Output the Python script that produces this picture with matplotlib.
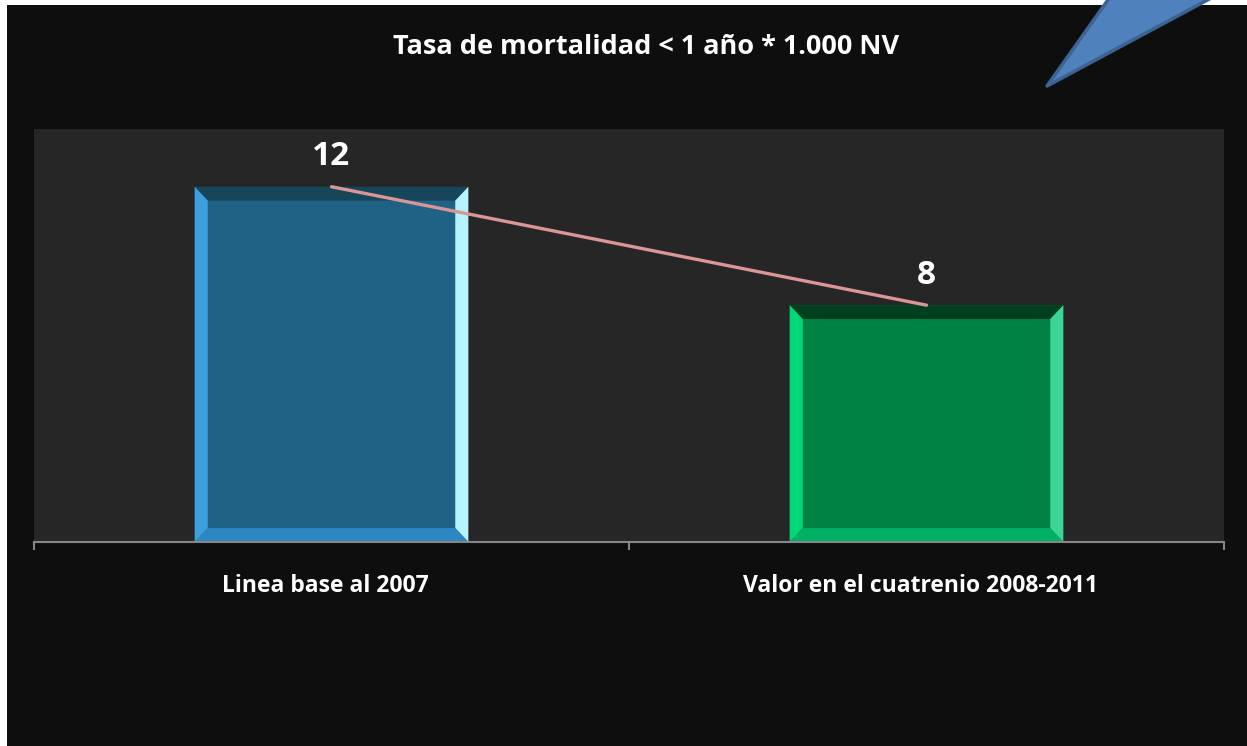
import matplotlib
matplotlib.use("Agg")
import matplotlib.pyplot as plt
from matplotlib.patches import Polygon, Rectangle

# data
categories = ["Linea base al 2007", "Valor en el cuatrenio 2008-2011"]
values = [12, 8]
title = "Tasa de mortalidad < 1 año * 1.000 NV"

# bar colours: face, top, left, right, bottom bevel
blue = ["#206286", "#17465a", "#3d9fdd", "#b4f3ff", "#2e86c2"]
green = ["#008244", "#003f1f", "#00d877", "#3ad597", "#00b064"]
bar_colors = [blue, green]

FONT = "Open Sans"

W, H = 1247, 746
fig = plt.figure(figsize=(W / 100, H / 100), dpi=100, facecolor="#0e0e0e")

# page margins + decoration
bg = fig.add_axes([0, 0, 1, 1], zorder=0)
bg.set_xlim(0, W)
bg.set_ylim(H, 0)
bg.axis("off")
bg.add_patch(Rectangle((-5, -5), 12, H + 10, color="white", lw=0))
bg.add_patch(Rectangle((-5, -5), W + 10, 10, color="white", lw=0))
bg.add_patch(Polygon([(1047, 86), (1110, -3), (1213, -3)], closed=True,
                     facecolor="#4f81bd", edgecolor="#3c6392", linewidth=2.5,
                     joinstyle="round"))

ax = fig.add_axes([34 / W, 1 - 542 / H, (1224 - 34) / W, (542 - 129) / H], zorder=1)
ax.set_facecolor("#262626")
ax.set_xlim(-0.5, 1.5)
ax.set_ylim(0, 13.95)

bw = 0.46
bx = 0.022   # bevel width in x units
by = 0.47    # bevel height in y units
for i, (v, c) in enumerate(zip(values, bar_colors)):
    x0, x1 = i - bw / 2, i + bw / 2
    ax.add_patch(Rectangle((x0, 0), bw, v, color=c[0], lw=0))
    ax.add_patch(Polygon([(x0, v), (x1, v), (x1 - bx, v - by), (x0 + bx, v - by)], color=c[1], lw=0))
    ax.add_patch(Polygon([(x0, 0), (x0, v), (x0 + bx, v - by), (x0 + bx, by)], color=c[2], lw=0))
    ax.add_patch(Polygon([(x1, 0), (x1, v), (x1 - bx, v - by), (x1 - bx, by)], color=c[3], lw=0))
    ax.add_patch(Polygon([(x0, 0), (x1, 0), (x1 - bx, by), (x0 + bx, by)], color=c[4], lw=0))
    ax.text(i, v + 0.45, str(v), ha="center", va="bottom", color="white",
            fontsize=24, fontweight="bold", family=FONT)

ax.plot(range(len(values)), values, color="#d99694", lw=2.4, solid_capstyle="round", zorder=5)

for s in ["top", "right", "left"]:
    ax.spines[s].set_visible(False)
ax.spines["bottom"].set_color("#868686")
ax.spines["bottom"].set_linewidth(1.5)
ax.set_yticks([])
ax.set_xticks([-0.5, 0.5, 1.5])
ax.set_xticklabels([])
ax.tick_params(axis="x", length=6, width=1.5, color="#868686")
for i, lab in enumerate(categories):
    ax.text(i - 0.01, -1.5, lab, ha="center", va="center", color="white",
            fontsize=16.5, fontweight="bold", family=FONT)

fig.text(646 / W, 1 - 47 / H, title, ha="center", va="center", color="white",
         fontsize=19.5, fontweight="bold", family=FONT)

fig.savefig("out.png", dpi=100, facecolor=fig.get_facecolor())
